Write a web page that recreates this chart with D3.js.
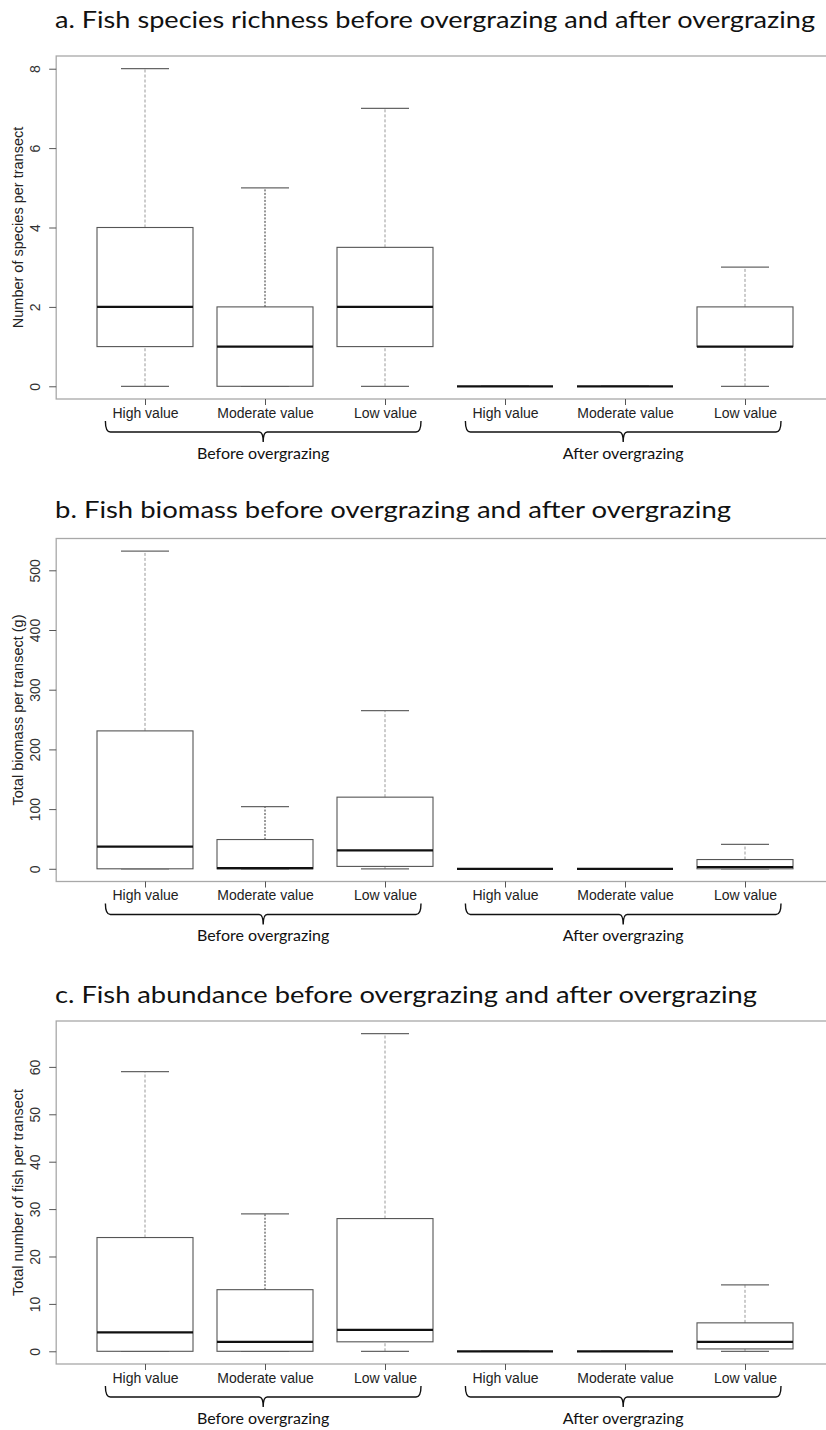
<!DOCTYPE html>
<html>
<head>
<meta charset="utf-8">
<script src="https://cdn.jsdelivr.net/npm/d3@7"></script>
<style>
  body { margin: 0; background: #fff; }
  svg { display: block; }
</style>
</head>
<body>
<div id="chart"></div>
<script>
// categories
let groupLabels = ["High value", "Moderate value", "Low value", "High value", "Moderate value", "Low value"];
let periodLabels = ["Before overgrazing", "After overgrazing"];
let periodGroups = [[1, 3], [4, 6]];

// box stats per group: [min, q1, median, q3, max]
let richnessStats = [
    [0, 1, 2, 4, 8],
    [0, 0, 1, 2, 5],
    [0, 1, 2, 3.5, 7],
    [0, 0, 0, 0, 0],
    [0, 0, 0, 0, 0],
    [0, 1, 1, 2, 3]
];
let biomassStats = [
    [0, 0, 37, 231, 532],
    [0, 0, 1, 49, 104],
    [0, 4, 31, 120, 265],
    [0, 0, 0, 0, 0],
    [0, 0, 0, 0, 0],
    [0, 0, 3, 15.5, 41]
];
let abundanceStats = [
    [0, 0, 4, 24, 59],
    [0, 0, 2, 13, 29],
    [0, 2, 4.5, 28, 67],
    [0, 0, 0, 0, 0],
    [0, 0, 0, 0, 0],
    [0, 0.5, 2, 6, 14]
];

// tick labels
let richnessTicks = [0, 2, 4, 6, 8];
let biomassTicks = [0, 100, 200, 300, 400, 500];
let abundanceTicks = [0, 10, 20, 30, 40, 50, 60];

let titles = [
    "a. Fish species richness before overgrazing and after overgrazing",
    "b. Fish biomass before overgrazing and after overgrazing",
    "c. Fish abundance before overgrazing and after overgrazing"
];
let yLabels = [
    "Number of species per transect",
    "Total biomass per transect (g)",
    "Total number of fish per transect"
];

let panels = [
    { title: titles[0], ylab: yLabels[0], stats: richnessStats, ticks: richnessTicks, top: 56, titleY: 28, titleW: 760 },
    { title: titles[1], ylab: yLabels[1], stats: biomassStats, ticks: biomassTicks, top: 538.5, titleY: 518, titleW: 676 },
    { title: titles[2], ylab: yLabels[2], stats: abundanceStats, ticks: abundanceTicks, top: 1021, titleY: 1003, titleW: 702 }
];

let width = 826, height = 1430;
let plotH = 343;
let left = 56.2, right = 833.8;

let svg = d3.select("#chart").append("svg")
    .attr("width", width)
    .attr("height", height);

// R style: positions 1..6, xlim 0.5..6.5 padded by 4%
let x = d3.scaleLinear().domain([0.26, 6.74]).range([left, right]);
let boxHalf = x(1.4) - x(1);
let capHalf = x(1.2) - x(1);

let whiskerStyle = function (i) {
    if (i % 3 == 1) return { color: "#333", dash: "2,1.5" };
    return { color: "#999", dash: "3,2" };
};

function drawPanel(p) {
    let top = p.top, bottom = p.top + plotH;
    let lo = d3.min(p.stats, d => d[0]);
    let hi = d3.max(p.stats, d => d[4]);
    let pad = (hi - lo) * 0.04;
    let y = d3.scaleLinear().domain([lo - pad, hi + pad]).range([bottom, top]);

    let g = svg.append("g");

    g.append("text")
        .attr("x", 55)
        .attr("y", p.titleY)
        .attr("font-family", "Lato, 'Open Sans', sans-serif")
        .attr("font-size", "24px")
        .attr("fill", "#111")
        .attr("textLength", p.titleW)
        .attr("lengthAdjust", "spacingAndGlyphs")
        .text(p.title);

    // frame
    g.append("rect")
        .attr("x", left)
        .attr("y", top)
        .attr("width", right - left)
        .attr("height", plotH)
        .attr("fill", "none")
        .attr("stroke", "#a8a8a8")
        .attr("stroke-width", 1.3);

    // y axis
    let yAxis = d3.axisLeft(y).tickValues(p.ticks).tickSize(7);
    let ya = g.append("g").attr("transform", "translate(" + left + ",0)").call(yAxis);
    ya.select(".domain").remove();
    ya.selectAll(".tick line").attr("stroke", "#555");
    ya.selectAll(".tick text")
        .attr("font-family", "'Liberation Sans', Arial, sans-serif")
        .attr("font-size", "14px")
        .attr("fill", "#333")
        .attr("text-anchor", "middle")
        .attr("x", 0)
        .attr("y", 0)
        .attr("dy", "0.35em")
        .attr("transform", "translate(-21,0) rotate(-90)");

    g.append("text")
        .attr("transform", "translate(18," + ((top + bottom) / 2) + ") rotate(-90)")
        .attr("text-anchor", "middle")
        .attr("dy", "0.35em")
        .attr("font-family", "'Liberation Sans', Arial, sans-serif")
        .attr("font-size", "14.5px")
        .attr("fill", "#222")
        .text(p.ylab);

    // x axis ticks + labels
    let xAxis = d3.axisBottom(x).tickValues([1, 2, 3, 4, 5, 6])
        .tickFormat((d, i) => groupLabels[i]).tickSize(6).tickPadding(3);
    let xa = g.append("g").attr("transform", "translate(0," + bottom + ")").call(xAxis);
    xa.select(".domain").remove();
    xa.selectAll(".tick line").attr("stroke", "#555");
    xa.selectAll(".tick text")
        .attr("font-family", "'Liberation Sans', Arial, sans-serif")
        .attr("font-size", "14px")
        .attr("fill", "#222");

    // boxes
    let boxes = g.selectAll(".box").data(p.stats).enter().append("g");

    boxes.append("line")
        .attr("x1", (d, i) => x(i + 1)).attr("x2", (d, i) => x(i + 1))
        .attr("y1", d => y(d[3])).attr("y2", d => y(d[4]))
        .attr("stroke", (d, i) => whiskerStyle(i).color)
        .attr("stroke-dasharray", (d, i) => whiskerStyle(i).dash)
        .attr("stroke-width", 1);
    boxes.append("line")
        .attr("x1", (d, i) => x(i + 1)).attr("x2", (d, i) => x(i + 1))
        .attr("y1", d => y(d[0])).attr("y2", d => y(d[1]))
        .attr("stroke", (d, i) => whiskerStyle(i).color)
        .attr("stroke-dasharray", (d, i) => whiskerStyle(i).dash)
        .attr("stroke-width", 1);
    [0, 4].forEach(k => {
        boxes.append("line")
            .attr("x1", (d, i) => x(i + 1) - capHalf).attr("x2", (d, i) => x(i + 1) + capHalf)
            .attr("y1", d => y(d[k])).attr("y2", d => y(d[k]))
            .attr("stroke", "#666")
            .attr("stroke-width", 1.2);
    });
    boxes.append("rect")
        .attr("x", (d, i) => x(i + 1) - boxHalf)
        .attr("width", boxHalf * 2)
        .attr("y", d => y(d[3]))
        .attr("height", d => y(d[1]) - y(d[3]))
        .attr("fill", "#fff")
        .attr("stroke", "#555")
        .attr("stroke-width", 1.1);
    boxes.append("line")
        .attr("x1", (d, i) => x(i + 1) - boxHalf).attr("x2", (d, i) => x(i + 1) + boxHalf)
        .attr("y1", d => y(d[2])).attr("y2", d => y(d[2]))
        .attr("stroke", "#111")
        .attr("stroke-width", 2.2);

    // braces under groups
    periodGroups.forEach((pg, j) => {
        let x0 = x(pg[0] - 0.33), x1 = x(pg[1] + 0.3), xm = (x0 + x1) / 2;
        let t = bottom + 22, h = bottom + 33, b = bottom + 43;
        let path = "M" + x0 + "," + t +
            " Q" + x0 + "," + h + " " + (x0 + 5) + "," + h +
            " L" + (xm - 4) + "," + h +
            " Q" + xm + "," + h + " " + xm + "," + b +
            " Q" + xm + "," + h + " " + (xm + 4) + "," + h +
            " L" + (x1 - 5) + "," + h +
            " Q" + x1 + "," + h + " " + x1 + "," + t;
        g.append("path")
            .attr("d", path)
            .attr("fill", "none")
            .attr("stroke", "#111")
            .attr("stroke-width", 1.4);
        g.append("text")
            .attr("x", xm)
            .attr("y", bottom + 54)
            .attr("dy", "0.35em")
            .attr("text-anchor", "middle")
            .attr("font-family", "Lato, 'Open Sans', sans-serif")
            .attr("font-size", "16px")
            .attr("fill", "#111")
            .text(periodLabels[j]);
    });
}

panels.forEach(drawPanel);
</script>
</body>
</html>
